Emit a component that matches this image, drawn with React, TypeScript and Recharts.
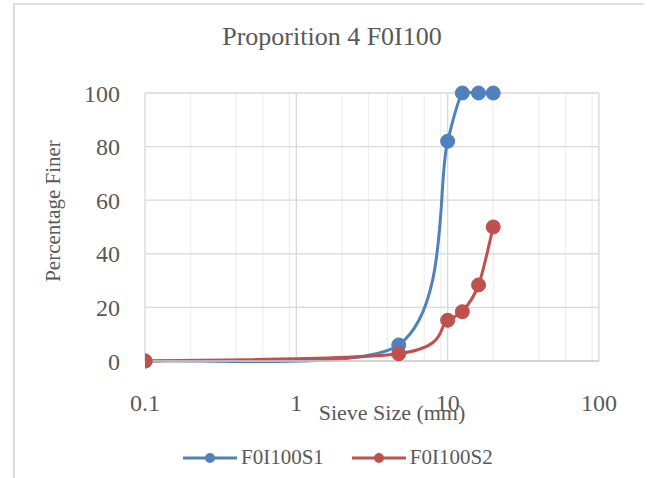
import { CartesianGrid, Legend, Line, LineChart, XAxis, YAxis } from 'recharts'

const SIEVE_SIZES = [0.1, 4.75, 10, 12.5, 16, 20]
const S1_FINER = [0, 6, 82, 100, 100, 100]
const S2_FINER = [0, 2.7, 15.2, 18.4, 28.4, 50]

const X_TICKS = [0.1, 1, 10, 100]
const X_MINOR = [0.2, 0.3, 0.4, 0.5, 0.6, 0.7, 0.8, 0.9, 2, 3, 4, 5, 6, 7, 8, 9, 20, 30, 40, 50, 60, 70, 80, 90]
const Y_TICKS = [0, 20, 40, 60, 80, 100]

const SERIES = [
  { name: 'F0I100S1', color: '#4f81bd', values: S1_FINER },
  { name: 'F0I100S2', color: '#c0504d', values: S2_FINER },
]

const FONT = '"Liberation Serif", "Times New Roman", serif'
const TEXT = '#595959'

// weight of vertical distance when clamping control points (mimics Excel's smoothing)
const Y_WEIGHT = 5

// Excel-style smoothed line: bezier through every point, control arms clamped to half a segment
function excelSmooth(context: any) {
  let pts: number[][] = []
  const dist = (a: number[], b: number[]) => Math.hypot(b[0] - a[0], (b[1] - a[1]) * Y_WEIGHT)
  return {
    areaStart() {},
    areaEnd() {},
    lineStart() {
      pts = []
    },
    point(x: number, y: number) {
      pts.push([+x, +y])
    },
    lineEnd() {
      if (!pts.length) return
      context.moveTo(pts[0][0], pts[0][1])
      for (let i = 0; i < pts.length - 1; i++) {
        const p0 = pts[Math.max(0, i - 1)]
        const p1 = pts[i]
        const p2 = pts[i + 1]
        const p3 = pts[Math.min(pts.length - 1, i + 2)]
        const d12 = dist(p1, p2)
        const d02 = dist(p0, p2)
        const d13 = dist(p1, p3)
        const f1 = d02 / 6 >= d12 / 2 && d02 > 0 ? d12 / 2 / d02 : 1 / 6
        const f2 = d13 / 6 >= d12 / 2 && d13 > 0 ? d12 / 2 / d13 : 1 / 6
        context.bezierCurveTo(
          p1[0] + (p2[0] - p0[0]) * f1,
          p1[1] + (p2[1] - p0[1]) * f1,
          p2[0] - (p3[0] - p1[0]) * f2,
          p2[1] - (p3[1] - p1[1]) * f2,
          p2[0],
          p2[1]
        )
      }
    },
  }
}

function XTitle(props: any) {
  const { viewBox } = props
  return (
    <text
      x={viewBox.x + viewBox.width / 2 + 20}
      y={viewBox.y + 59}
      textAnchor="middle"
      fill={TEXT}
      fontSize={22}
      fontFamily={FONT}
    >
      Sieve Size (mm)
    </text>
  )
}

function YTitle(props: any) {
  const { viewBox } = props
  const cx = viewBox.x + 53
  const cy = viewBox.y + 118
  return (
    <text
      x={cx}
      y={cy}
      transform={`rotate(-90 ${cx} ${cy})`}
      textAnchor="middle"
      dominantBaseline="central"
      fill={TEXT}
      fontSize={21}
      fontFamily={FONT}
    >
      Percentage Finer
    </text>
  )
}

function LegendContent() {
  return (
    <div style={{ display: 'flex', paddingLeft: 183, alignItems: 'center', fontFamily: FONT, fontSize: 21, color: TEXT }}>
      {SERIES.map((s, i) => (
        <div key={s.name} style={{ display: 'flex', alignItems: 'center', marginRight: i === 0 ? 28 : 0 }}>
          <svg width={54} height={14} style={{ marginRight: 4 }}>
            <line x1={0} y1={7} x2={54} y2={7} stroke={s.color} strokeWidth={3} />
            <circle cx={27} cy={7} r={5} fill={s.color} />
          </svg>
          <span>{s.name}</span>
        </div>
      ))}
    </div>
  )
}

export default function App() {
  const seriesData = SERIES.map((s) => ({
    ...s,
    data: SIEVE_SIZES.map((size, i) => ({ size, value: s.values[i] })),
  }))

  return (
    <div style={{ position: 'absolute', left: 0, top: 0, width: 647, height: 478, background: '#fff', overflow: 'hidden' }}>
      <div
        style={{
          position: 'absolute',
          left: 13,
          top: 3,
          width: 629,
          height: 500,
          borderLeft: '2px solid #dadada',
          borderTop: '2px solid #e2e2e2',
        }}
      />
      <div
        style={{
          position: 'absolute',
          left: 0,
          top: 22,
          width: 664,
          textAlign: 'center',
          fontFamily: FONT,
          fontSize: 26,
          color: TEXT,
        }}
      >
        Proporition 4 F0I100
      </div>
      <div style={{ position: 'absolute', left: 0, top: 0 }}>
        <LineChart width={647} height={478} margin={{ top: 93, right: 48, bottom: 67, left: 0 }}>
          <CartesianGrid horizontal={false} verticalValues={X_MINOR} stroke="#efefef" strokeWidth={1.3} />
          <CartesianGrid stroke="#d9d9d9" strokeWidth={1.3} />
          <XAxis
            type="number"
            dataKey="size"
            scale="log"
            domain={[0.1, 100]}
            ticks={X_TICKS}
            allowDataOverflow
            height={50}
            axisLine={{ stroke: '#cfcfcf', strokeWidth: 1.3 }}
            tickLine={false}
            tickMargin={27}
            tickFormatter={(v: number) => String(v)}
            tick={{ fill: TEXT, fontSize: 24, fontFamily: FONT }}
            label={<XTitle />}
          />
          <YAxis
            type="number"
            domain={[0, 100]}
            ticks={Y_TICKS}
            width={145}
            axisLine={false}
            tickLine={false}
            tickMargin={19}
            tick={{ fill: TEXT, fontSize: 24, fontFamily: FONT }}
            label={<YTitle />}
          />
          {seriesData.map((s) => (
            <Line
              key={s.name}
              data={s.data}
              dataKey="value"
              name={s.name}
              type={excelSmooth as any}
              stroke={s.color}
              strokeWidth={3}
              dot={{ r: 7, fill: s.color, stroke: s.color, strokeWidth: 1 }}
              activeDot={false}
              isAnimationActive={false}
            />
          ))}
          <Legend
            layout="horizontal"
            verticalAlign="middle"
            align="center"
            content={<LegendContent />}
            wrapperStyle={{ top: 445, left: 0, width: 647 }}
          />
        </LineChart>
      </div>
    </div>
  )
}
